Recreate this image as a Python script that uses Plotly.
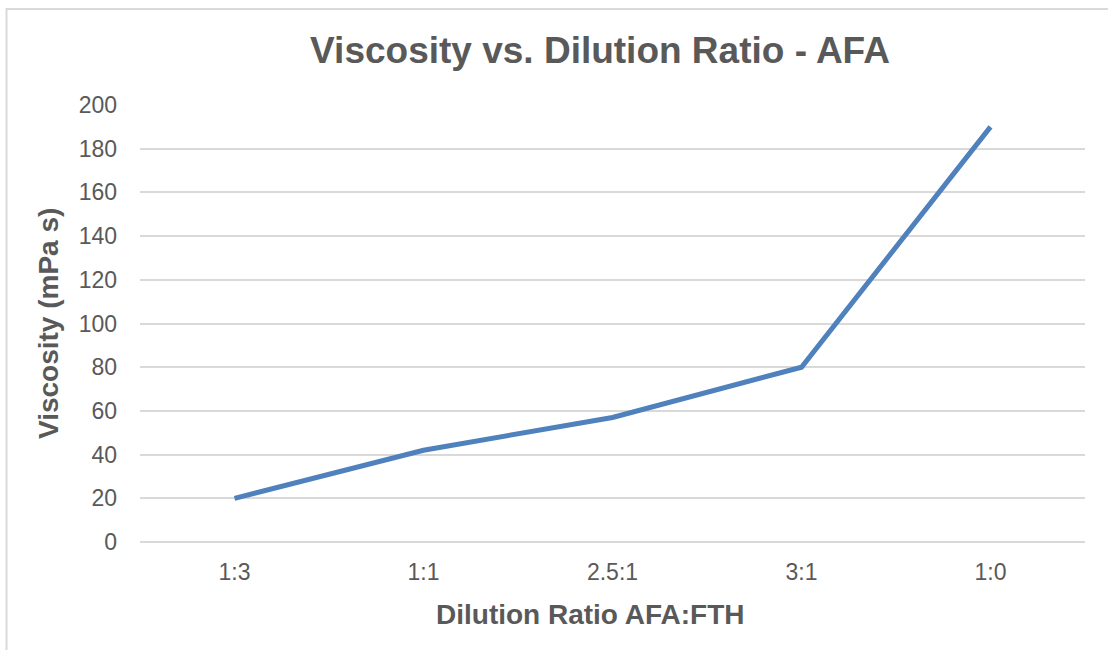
import plotly.graph_objects as go

categories = ["1:3", "1:1", "2.5:1", "3:1", "1:0"]
viscosity = [20, 42, 57, 80, 190]
y_ticks = [0, 20, 40, 60, 80, 100, 120, 140, 160, 180, 200]

W, H = 1108, 650
L, R, T, B = 140, 23, 105, 108
pw, ph = W - L - R, H - T - B

def px_x(p):
    return (p - L) / pw

def px_y(p):
    return (H - B - p) / ph

fig = go.Figure()
fig.add_trace(go.Scatter(
    x=categories, y=viscosity, mode="lines",
    line=dict(color="#4F81BD", width=5),
    showlegend=False, hoverinfo="x+y",
))

grey = "#595959"
fig.update_layout(
    width=W, height=H,
    margin=dict(l=L, r=R, t=T, b=B),
    paper_bgcolor="white", plot_bgcolor="white",
    font=dict(family="Liberation Sans, Arial, sans-serif", color=grey, size=24),
    title=dict(text="<b>Viscosity vs. Dilution Ratio - AFA</b>",
               xref="container", x=600 / W, xanchor="center", y=1 - 50 / H, yanchor="middle",
               font=dict(size=37, color=grey)),
    xaxis=dict(
        type="category", showgrid=False, zeroline=False, showline=False,
        ticks="", tickfont=dict(size=23, color=grey), ticklabelstandoff=14,
        range=[-0.5, 4.5],
    ),
    yaxis=dict(
        range=[0, 200], tickvals=y_ticks, showgrid=True, gridcolor="#D9D9D9", gridwidth=1.5,
        zeroline=True, zerolinecolor="#D9D9D9", zerolinewidth=1.5, showline=False, ticks="",
        tickfont=dict(size=23, color=grey), ticklabelstandoff=22,
    ),
    annotations=[
        dict(text="<b>Dilution Ratio AFA:FTH</b>", xref="paper", yref="paper",
             x=px_x(590), y=px_y(614), xanchor="center", yanchor="middle",
             showarrow=False, font=dict(size=28, color=grey)),
        dict(text="<b>Viscosity (mPa s)</b>", xref="paper", yref="paper",
             x=px_x(48), y=px_y(324), xanchor="center", yanchor="middle", textangle=-90,
             showarrow=False, font=dict(size=28, color=grey)),
    ],
    shapes=[dict(type="rect", xref="paper", yref="paper",
                 x0=px_x(6.5), x1=px_x(1112), y0=px_y(9), y1=px_y(655),
                 line=dict(color="#D9D9D9", width=2), fillcolor="rgba(0,0,0,0)", layer="below")],
)

fig.write_html("out.html", config={"displayModeBar": False},
               post_script="document.body.style.margin='0';document.body.style.overflow='hidden';")
